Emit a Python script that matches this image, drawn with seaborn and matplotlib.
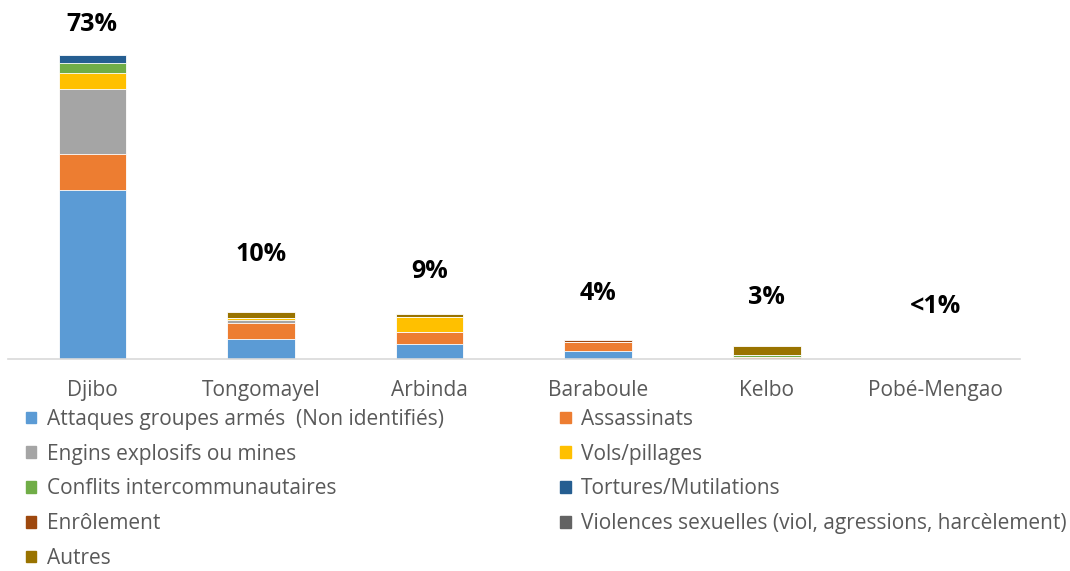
import matplotlib
matplotlib.use("Agg")
import matplotlib.pyplot as plt
import matplotlib.patches as mpatches
import numpy as np
import seaborn as sns

# Données (en % du total)
localites = ["Djibo", "Tongomayel", "Arbinda", "Baraboule", "Kelbo", "Pobé-Mengao"]
series = [
    "Attaques groupes armés  (Non identifiés)",
    "Assassinats",
    "Engins explosifs ou mines",
    "Vols/pillages",
    "Conflits intercommunautaires",
    "Tortures/Mutilations",
    "Enrôlement",
    "Violences sexuelles (viol, agressions, harcèlement)",
    "Autres",
]
attaques = [40.6, 4.8, 3.6, 1.9, 0.0, 0.0]
assassinats = [8.8, 3.8, 2.8, 2.2, 0.4, 0.0]
engins = [15.4, 0.8, 0.0, 0.0, 0.0, 0.0]
vols = [4.0, 0.5, 3.8, 0.0, 0.0, 0.0]
conflits = [2.3, 0.0, 0.0, 0.0, 0.55, 0.0]
tortures = [1.9, 0.0, 0.0, 0.0, 0.0, 0.0]
enrolement = [0.0, 0.0, 0.0, 0.5, 0.0, 0.0]
violences = [0.0, 0.0, 0.0, 0.0, 0.0, 0.0]
autres = [0.0, 1.4, 0.6, 0.0, 2.2, 0.0]
etiquettes = ["73%", "10%", "9%", "4%", "3%", "<1%"]

valeurs = [attaques, assassinats, engins, vols, conflits, tortures,
           enrolement, violences, autres]
couleurs = ["#5B9BD5", "#ED7D31", "#A5A5A5", "#FFC000", "#70AD47",
            "#255E91", "#9E480E", "#636363", "#997300"]

# position verticale des étiquettes (en unités de l'axe)
etiquettes_y = [80.5, 25.0, 21.0, 15.7, 14.7, 12.6]

sns.set_style("white")
plt.rcParams["font.family"] = ["Open Sans", "DejaVu Sans"]

fig = plt.figure(figsize=(10.7, 5.71), dpi=100)
ax = fig.add_axes([0.0075, 0.3713, 0.9455, 0.6112])

# barres empilées : on dessine les cumuls du plus haut au plus bas
cumuls = np.cumsum(np.array(valeurs), axis=0)
for i in range(len(series) - 1, -1, -1):
    sns.barplot(x=localites, y=cumuls[i], color=couleurs[i], saturation=1,
                width=0.4, edgecolor="white", linewidth=0.6, ax=ax)

for i, txt in enumerate(etiquettes):
    ax.text(i, etiquettes_y[i], txt, ha="center", va="center",
            fontsize=18, fontweight="bold", color="black")

ax.set_xlim(-0.5, 5.5)
ax.set_ylim(0, 83.9)
ax.set_yticks([])
ax.set_xlabel("")
ax.set_ylabel("")
for s in ["top", "right", "left"]:
    ax.spines[s].set_visible(False)
ax.spines["bottom"].set_color("#D9D9D9")
ax.spines["bottom"].set_linewidth(1.2)
ax.tick_params(axis="x", length=0, pad=15, labelsize=15, labelcolor="#595959")

# légende : colonne gauche puis colonne droite
ordre = [0, 2, 4, 6, 8, 1, 3, 5, 7]
poignees = [mpatches.Patch(color=couleurs[k], label=series[k]) for k in ordre]
fig.legend(handles=poignees, ncol=2, loc="upper left",
           bbox_to_anchor=(0.024, 0.284), frameon=False, fontsize=15,
           labelcolor="#595959", handlelength=0.5, handleheight=0.5,
           handletextpad=0.5, columnspacing=5.6, labelspacing=0.66,
           borderaxespad=0, borderpad=0)

fig.savefig("out.png", dpi=100)
